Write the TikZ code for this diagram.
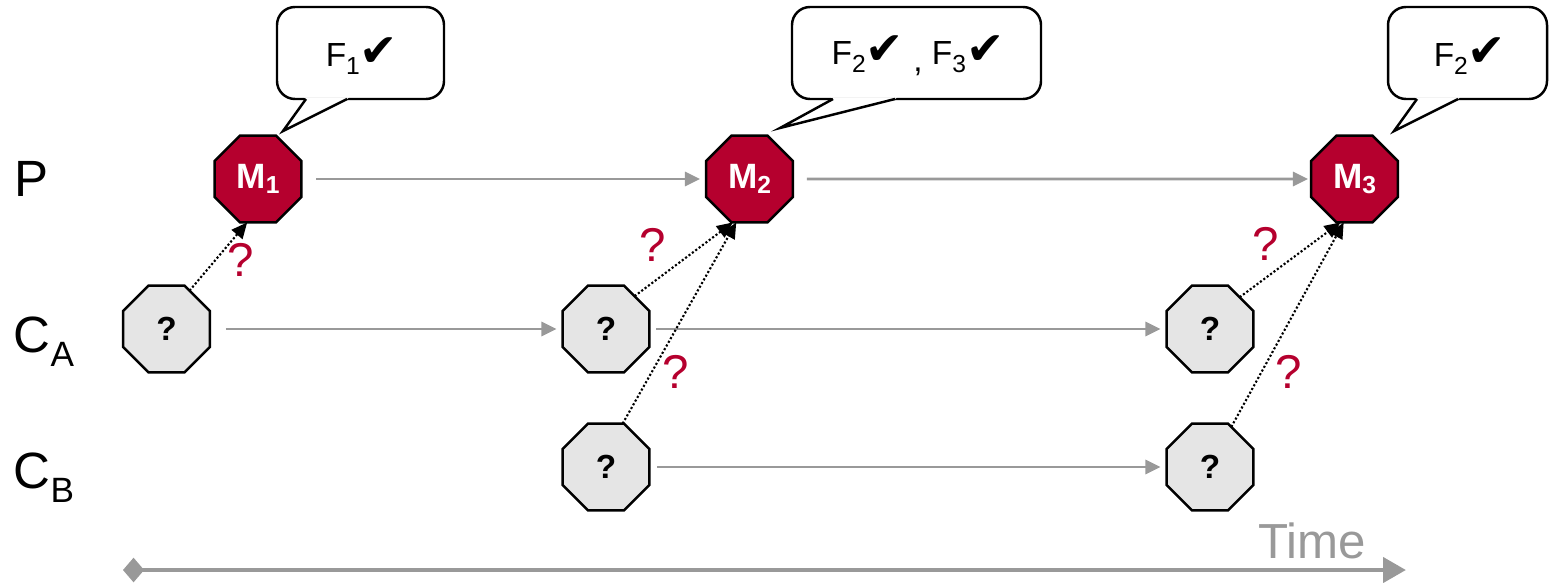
\documentclass[tikz,border=0pt]{standalone}
\usepackage{fontspec}
\setmainfont{Liberation Sans}
\newfontfamily\dejavu{DejaVu Sans}
\usetikzlibrary{shapes.geometric,arrows.meta,calc}
\definecolor{mred}{RGB}{181,0,46}
\definecolor{lgray}{RGB}{229,229,229}
\definecolor{agray}{RGB}{153,153,153}
\newcommand{\chk}{{\dejavu\fontsize{13}{15}\selectfont ✔}}
\newcommand{\lowsub}[1]{\raisebox{-0.45ex}{\fontsize{7}{8}\selectfont #1}}
\begin{document}
\begin{tikzpicture}[x=0.01cm,y=-0.01cm,
 oct/.style={regular polygon, regular polygon sides=8, minimum size=0.94cm, inner sep=0pt, outer sep=0pt, draw=black, line width=0.7pt},
 mnode/.style={oct, fill=mred, text=white, font=\bfseries\fontsize{10}{12}\selectfont},
 qnode/.style={oct, fill=lgray, font=\bfseries\fontsize{9.5}{11}\selectfont},
 flow/.style={draw=agray, line width=0.8pt, -{Triangle[length=4.3pt,width=4pt]}},
 dep/.style={draw=black, dash pattern=on 0.6pt off 0.6pt, line width=0.6pt, -{Triangle[length=4.5pt,width=4pt]}},
 qmark/.style={text=mred, font=\fontsize{13.5}{16}\selectfont, inner sep=0pt},
 rowlabel/.style={font=\fontsize{14.5}{17}\selectfont, inner sep=0pt, anchor=base west},
 bubble/.style={draw=black, line width=0.7pt, fill=white, rounded corners=0.18cm},
 bubbletext/.style={font=\fontsize{9.5}{11}\selectfont, inner sep=0pt},
 timeaxis/.style={draw=agray, line width=1.4pt, {Diamond[length=6pt,width=7pt]}-{Triangle[length=6.5pt,width=7pt]}},
]
\useasboundingbox (0,0) rectangle (1552,582);

% row labels
\node[rowlabel] (lP) at (14,196) {P};
\node[rowlabel] (lA) at (13,352) {C\raisebox{-0.55ex}{\fontsize{10}{12}\selectfont A}};
\node[rowlabel] (lB) at (13,488) {C\raisebox{-0.55ex}{\fontsize{10}{12}\selectfont B}};

% nodes
\node[mnode] (M1) at (258,179) {M\raisebox{-0.3ex}{\fontsize{7}{8}\selectfont 1}};
\node[mnode] (M2) at (749.5,179) {M\raisebox{-0.3ex}{\fontsize{7}{8}\selectfont 2}};
\node[mnode] (M3) at (1354.5,179) {M\raisebox{-0.3ex}{\fontsize{7}{8}\selectfont 3}};
\node[qnode] (A1) at (166.5,329) {?};
\node[qnode] (A2) at (606,329) {?};
\node[qnode] (A3) at (1210,329) {?};
\node[qnode] (B2) at (606,467) {?};
\node[qnode] (B3) at (1210,467) {?};

% flow arrows
\draw[flow] ($(M1.east)+(15,0)$) -- ($(M2.west)+(-6,0)$);
\draw[flow] ($(M2.east)+(14,0)$) -- ($(M3.west)+(-3,0)$);
\draw[flow] ($(A1.east)+(16,0)$) -- ($(A2.west)+(-6,0)$);
\draw[flow] ($(A2.east)+(7,0)$) -- ($(A3.west)+(-6,0)$);
\draw[flow] ($(B2.east)+(8,0)$) -- ($(B3.west)+(-6,0)$);

% dependency arrows
\draw[dep] (A1.59) -- (M1.256);
\draw[dep] (A2.49) -- (M2.249);
\draw[dep] (B2.69) -- (M2.253);
\draw[dep] (A3.47) -- (M3.252);
\draw[dep] (B3.62) -- (M3.256);

% red question marks
\node[qmark] (q1) at (241,260) {?};
\node[qmark] (q2) at (653,245) {?};
\node[qmark] (q3) at (676,372) {?};
\node[qmark] (q4) at (1266,244) {?};
\node[qmark] (q5) at (1289,372) {?};

% callouts
\draw[bubble] (277,7) rectangle (444,99);
\fill[white] (304,97.5) -- (306,99) -- (283,131) -- (347,99) -- (349,97.5) -- cycle;
\draw[line width=0.7pt, line join=miter] (306,99) -- (283,131) -- (347,99);
\node[bubbletext] (c1) at (362,56) {F\lowsub{1}\chk};

\draw[bubble] (792,7) rectangle (1041,99);
\fill[white] (831,97.5) -- (833,99) -- (780,128) -- (895,99) -- (897,97.5) -- cycle;
\draw[line width=0.7pt, line join=miter] (833,99) -- (780,128) -- (895,99);
\node[bubbletext] (c2) at (918,56) {F\lowsub{2}\chk\ \raisebox{-0.4ex}{,}\ F\lowsub{3}\chk};

\draw[bubble] (1388,7) rectangle (1547,99);
\fill[white] (1415,97.5) -- (1417,99) -- (1394,131) -- (1458,99) -- (1460,97.5) -- cycle;
\draw[line width=0.7pt, line join=miter] (1417,99) -- (1394,131) -- (1458,99);
\node[bubbletext] (c3) at (1470,56) {F\lowsub{2}\chk};

% time axis
\coordinate (t0) at (123,570);
\coordinate (t1) at (1406,570);
\draw[timeaxis] (t0) -- (t1);
\node[text=agray, font=\fontsize{14}{16}\selectfont, inner sep=0pt] (time) at (1312,541) {Time};
\end{tikzpicture}
\end{document}
